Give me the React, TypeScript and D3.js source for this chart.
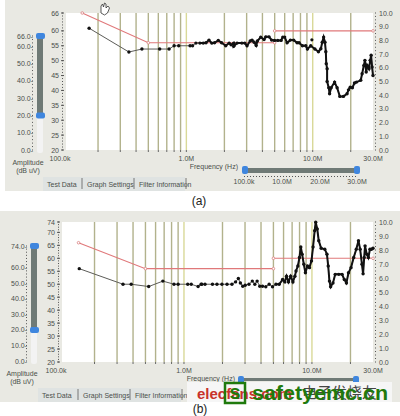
import React from "react";
import * as d3 from "d3";

const limitFreqA = [0.15, 0.5, 5];
const limitDbA = [66, 56, 56];
const limitFreqB = [5, 30];
const limitDbB = [60, 60];

const freqA = [0.17,0.351,0.445,0.615,0.73,0.8,0.87,1.07,1.12,1.19,1.28,1.36,1.43,1.51,1.59,1.67,1.79,1.9,2.05,2.18,2.26,2.37,2.37,2.52,2.75,2.9,3.02,3.2,3.31,3.44,3.57,3.65,3.88,4.12,4.25,4.51,4.73,4.98,5.29,5.62,5.8,6,6.27,6.66,7.07,7.52,7.8,8.29,8.81,9.08,9.65,10.4,11.1,11.6,11.9,12.2,12.5,12.7,12.8,13,13,13.4,13.6,14,14.9,15.6,16.4,17.5,18.7,19.2,19.8,20.6,21.4,22.2,24,24.6,25.4,25.9,26.5,27,27.9,28.5,29,29.5,30];
const dbA = [60.9,52.9,53.9,53.9,53.9,55,55,55,55,55.9,55.9,55.9,56,56.9,55.9,56,56.8,56,55,55.9,55.3,55.9,54.8,55.9,55.9,55.9,55,56.6,56.9,56.2,55.1,56.6,57.9,57.1,58,58,56.9,56.8,56.8,56.8,57.9,57.9,56,56.9,56.9,56,56,55,55,53.9,55,53.9,53,54,56.2,57.9,56.2,53,49,47.3,43,40.9,38.9,40.9,42.8,40.9,38,38,38.9,40.2,41.1,40.9,42.5,42.8,43.4,45.6,48.4,50.1,46.2,48.4,47.3,50.1,51.8,47.9,45];
const outlierFreqA = [9.85];
const outlierDbA = [57];

const freqC = [0.152,0.334,0.387,0.53,0.684,0.836,0.9,1.07,1.14,1.29,1.36,1.38,1.46,1.67,1.81,1.98,2.17,2.37,2.53,2.66,2.76,2.88,3.01,3.22,3.42,3.58,3.73,3.91,4.11,4.36,4.63,4.92,5.23,5.55,5.9,6.14,6.33,6.56,6.82,7.1,7.36,7.51,7.76,7.99,8.18,8.38,8.64,8.89,9.23,9.56,9.92,10.2,10.5,10.7,11,11.3,11.8,12.6,13.1,13.4,13.7,14,14.6,15.2,16.2,17.2,17.9,18.6,19.3,20.2,21.2,22.2,23.1,23.8,24.6,25.1,25.6,26,26.8,27.6,28.4,29.2,30];
const dbC = [56,50,50,49.1,51.2,50,50,50,50,49.1,50,50,50,50,50,50,50,50,50.9,52.2,50.5,49.2,49.6,50,51.2,50,51.2,49.2,49.2,49,50,49,50,50,51.8,50.9,53.1,50.9,53.1,50.9,53.1,55.1,57,60.3,64.4,61.6,57.7,54.4,57,56.4,59,64.4,70.6,73.9,71.3,66.8,63.9,63.5,61.6,57,51.2,49,50.5,53.8,53.8,53.8,51.8,50.5,54.4,56.4,60.3,63.5,66.8,63.5,57.7,54,60.3,64.8,61.6,60.3,63.5,63.5,63.9];

const gridFreqs = [0.2,0.3,0.4,0.5,0.6,0.7,0.8,0.9,1,2,3,4,5,6,7,8,9,10,20];
const ampTicksA = [66,60,55,50,45,40,35,30,25,20];
const ampTicksB = [74,70,65,60,55,50,45,40,35,30,25,20];
const rightTicks = [10,9,8,7,6,5,4,3,2,1,0];
const sliderTicksA = [66,60,50,40,30,20,10,0];
const sliderTicksB = [74,60,50,40,30,20,10,0];
const tabs = ["Test Data","Graph Settings","Filter Information"];
const rangeLabels = ["100.0k","10.0M","20.0M","30.0M"];

const FONT = "Liberation Sans, Arial, sans-serif";
const TXT = "#4a4f4a";
const FS = 7;

function Panel(p:{top:number;bottom:number;panelX:number;panelY:number;panelH:number;plotL:number;x0:number;yMax:number;
  ampTicks:number[];sl:number[];slX:number;slTop:number;slBot:number;
  freq:number[];db:number[];tabX:number[];tabY:number;hx:number;showRange:boolean;ampX:number;ampY:number;thickFrom:number;
  barL:number;barR:number;barY:number;extraF?:number[];extraD?:number[]}){
  const x=d3.scaleLog().domain([0.1,30]).range([p.x0,373]);
  const y=d3.scaleLinear().domain([20,p.yMax]).range([p.bottom,p.top]);
  const yR=d3.scaleLinear().domain([0,10]).range([p.bottom,p.top]);
  const sl=d3.scaleLinear().domain([0,p.sl[0]]).range([p.slBot,p.slTop]);
  const pts=p.freq.map((f,i)=>[f,p.db[i]] as [number,number]);
  const line=d3.line<[number,number]>().x(d=>x(d[0])).y(d=>y(d[1]));
  const lim=d3.line<number>().x((_,i)=>x(limitFreqA[i])).y(d=>y(d));
  const lim2=d3.line<number>().x((_,i)=>x(limitFreqB[i])).y(d=>y(d));
  const minor=d3.range(20,p.yMax+0.01,1);
  const minorR=d3.range(0,10.01,0.25);
  const minorS=d3.range(0,p.sl[0]+0.01,2);
  const rangeX=[p.barL+2,p.barL+40,p.barL+78,p.barR-3];
  return <g fontFamily={FONT}>
    <rect x={p.panelX} y={p.panelY} width={400-p.panelX} height={p.panelH} fill="#e9e9e3"/>
    <rect x={p.plotL} y={p.top} width={373-p.plotL} height={p.bottom-p.top} fill="#fff"/>
    {gridFreqs.map(f=><g key={f}>
      <line x1={x(f)} x2={x(f)} y1={p.top} y2={p.bottom} stroke={f===1||f===10?"#d9d998":"#b2b28c"} strokeWidth={1.4}/>
      <line x1={x(f)} x2={x(f)} y1={p.bottom} y2={p.bottom+2} stroke="#666"/>
    </g>)}
    {minor.map(v=><rect key={v} x={p.plotL-4} y={y(v)-0.5} width={1} height={1} fill="#555"/>)}
    {p.ampTicks.map(v=><g key={v}>
      <line x1={p.plotL-5} x2={p.plotL-2} y1={y(v)} y2={y(v)} stroke="#555"/>
      <text x={p.plotL-7} y={y(v)+2.5} textAnchor="end" fontSize={FS} fill={TXT}>{v}</text>
    </g>)}
    {minorR.map(v=><rect key={v} x={375} y={yR(v)-0.5} width={1} height={1} fill="#555"/>)}
    {rightTicks.map(v=><text key={v} x={379} y={yR(v)+2.5} fontSize={FS} fill={TXT}>{v.toFixed(1)}</text>)}
    <text x={p.x0} y={p.bottom+10.5} textAnchor="middle" fontSize={FS} fill={TXT}>100.0k</text>
    <text x={x(1)} y={p.bottom+10.5} textAnchor="middle" fontSize={FS} fill={TXT}>1.0M</text>
    <text x={x(10)} y={p.bottom+10.5} textAnchor="middle" fontSize={FS} fill={TXT}>10.0M</text>
    <text x={373} y={p.bottom+10.5} textAnchor="middle" fontSize={FS} fill={TXT}>30.0M</text>
    <path d={lim(limitDbA)!} fill="none" stroke="#e0787a" strokeWidth={1.1}/>
    <path d={lim2(limitDbB)!} fill="none" stroke="#e0787a" strokeWidth={1.1}/>
    {limitFreqA.concat(limitFreqB).map((f,i)=>{const d=limitDbA.concat(limitDbB)[i];
      return <circle key={i} cx={x(f)} cy={y(d)} r={1.3} fill="#fff" stroke="#d98080" strokeWidth={0.8}/>;})}
    <path d={line(pts)!} fill="none" stroke="#5c5c58" strokeWidth={1}/>
    <path d={line(pts.filter(d=>d[0]>=p.thickFrom))!} fill="none" stroke="#111" strokeWidth={2}/>
    {pts.map((d,i)=><circle key={i} cx={x(d[0])} cy={y(d[1])} r={1.7} fill="#111"/>)}
    {(p.extraF||[]).map((f,i)=><circle key={i} cx={x(f)} cy={y(p.extraD![i])} r={1.6} fill="#111"/>)}

    {/* amplitude slider */}
    <rect x={p.slX} y={p.slTop} width={6} height={p.slBot-p.slTop+3} rx={2} fill="#f3f3f3"/>
    <rect x={p.slX} y={p.slTop} width={6} height={sl(20)-p.slTop} fill="#6f7a76"/>
    <rect x={p.slX-1} y={p.slTop-3} width={9} height={6} rx={2} fill="#3f86de"/>
    <rect x={p.slX-1} y={sl(20)-3} width={9} height={6} rx={2} fill="#3f86de"/>
    {minorS.map(v=><rect key={v} x={p.slX-5} y={sl(v)-0.5} width={1} height={1} fill="#555"/>)}
    {p.sl.map(v=><text key={v} x={p.slX-4} y={sl(v)+2.5} textAnchor="end" fontSize={FS} fill={TXT}>{v.toFixed(1)}-</text>)}
    <text x={p.ampX} y={p.ampY} textAnchor="middle" fontSize={FS} fill={TXT}>Amplitude</text>
    <text x={p.ampX} y={p.ampY+8} textAnchor="middle" fontSize={FS} fill={TXT}>(dB uV)</text>

    {/* tabs */}
    <rect x={p.tabX[0]-4} y={p.tabY-10} width={p.tabX[2]+50-p.tabX[0]} height={14} fill="#dfe3e2"/>
    {tabs.map((t,i)=><text key={t} x={p.tabX[i]} y={p.tabY} fontSize={FS} fill={TXT}>{t}</text>)}
    {[p.tabX[1]-5,p.tabX[2]-5,p.tabX[2]+47].map(v=><line key={v} x1={v} x2={v} y1={p.tabY-9} y2={p.tabY+2} stroke="#777"/>)}

    {/* frequency slider */}
    <text x={p.hx} y={p.bottom+19} textAnchor="end" fontSize={FS} fill={TXT}>Frequency (Hz)</text>
    <rect x={p.barL+2} y={p.barY+1} width={p.barR-p.barL-4} height={p.showRange?5:3} fill="#6f7a76"/>
    <rect x={p.barL} y={p.barY-1} width={6} height={8} rx={2} fill="#3f86de"/>
    <rect x={p.barR-6} y={p.barY-1} width={6} height={8} rx={2} fill="#3f86de"/>
    {p.showRange && <g fontSize={FS} fill={TXT} textAnchor="middle">
      {d3.range(p.barL+2,p.barR-2,3).map(v=><rect key={v} x={v} y={p.barY+9} width={1} height={1} fill="#555" stroke="none"/>)}
      {rangeLabels.map((t,i)=><text key={t} x={rangeX[i]} y={p.barY+17}>{t}</text>)}
    </g>}
  </g>;
}

export default function App(){
  return <svg width={400} height={416} style={{position:"absolute",left:0,top:0,background:"#fff"}}>
    <Panel top={13} bottom={150} panelX={5} panelY={0} panelH={191} plotL={66} x0={60} yMax={66}
      ampTicks={ampTicksA} sl={sliderTicksA} slX={37} slTop={36} slBot={150}
      freq={freqA} db={dbA} tabX={[47,87,139]} tabY={187} hx={238} showRange={true} ampX={28} ampY={165} thickFrom={1.2}
      barL={242} barR={360} barY={167} extraF={outlierFreqA} extraD={outlierDbA}/>
    <Panel top={222} bottom={362} panelX={0} panelY={211} panelH={191} plotL={62} x0={56} yMax={74}
      ampTicks={ampTicksB} sl={sliderTicksB} slX={31} slTop={246} slBot={361}
      freq={freqC} db={dbC} tabX={[42,83,135]} tabY={398} hx={235} showRange={false} ampX={22} ampY={376} thickFrom={5}
      barL={238} barR={359} barY={377}/>
    <g fontFamily={FONT}>
      <path d="M101 13 v-7 l1.5 -2 l1 3 l1 -4 l1.5 1 l0 4 l2 -2 l1.5 2 l-2 5 l-3 2 Z" fill="#fff" stroke="#333" strokeWidth={0.8}/>
      <text x={199} y={205} textAnchor="middle" fontSize={12} fill="#222">(a)</text>
      <rect x={187} y={382} width={205} height={20} fill="#f6f6f6"/>
      <text x={197} y={399} fontSize={15} fontWeight={700} fill="#c8322c">elecfans.com</text>
      <text x={302} y={398} fontSize={15} fill="#444" fontFamily="Noto Sans CJK SC">电子发烧友</text>
      <text x={200} y={413} textAnchor="middle" fontSize={12} fill="#222">(b)</text>
      <rect x={225} y={383} width={20} height={20} fill="none" stroke="#1f7a0c" strokeWidth={2.5}/>
      <text x={235} y={399} textAnchor="middle" fontSize={20} fontWeight={700} fill="#1f7a0c">s</text>
      <text x={252} y={400} fontSize={20} fontWeight={700} fill="#1f7a0c" textLength={136} lengthAdjust="spacingAndGlyphs">safetyemc.cn</text>
    </g>
  </svg>;
}
